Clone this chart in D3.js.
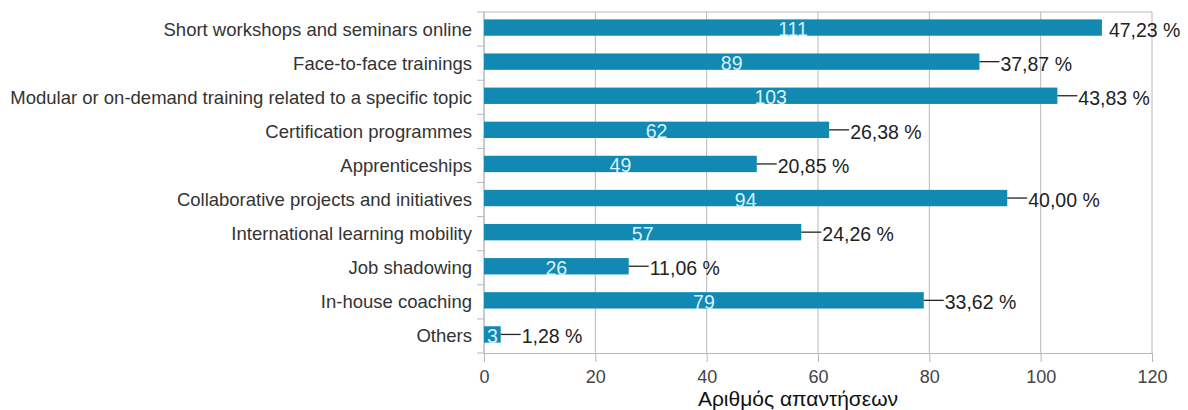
<!DOCTYPE html>
<html>
<head>
<meta charset="utf-8">
<script src="https://cdn.jsdelivr.net/npm/d3@7"></script>
<style>
  html, body { margin: 0; padding: 0; background: #fff; }
  svg { display: block; }
  text { font-family: "Liberation Sans", Arial, sans-serif; }
</style>
</head>
<body>
<svg id="chart" width="1188" height="410"></svg>
<script>
const categories = [
  "Short workshops and seminars online",
  "Face-to-face trainings",
  "Modular or on-demand training related to a specific topic",
  "Certification programmes",
  "Apprenticeships",
  "Collaborative projects and initiatives",
  "International learning mobility",
  "Job shadowing",
  "In-house coaching",
  "Others"
];
const counts = [111, 89, 103, 62, 49, 94, 57, 26, 79, 3];
const percents = ["47,23 %", "37,87 %", "43,83 %", "26,38 %", "20,85 %", "40,00 %", "24,26 %", "11,06 %", "33,62 %", "1,28 %"];
const xTicks = [0, 20, 40, 60, 80, 100, 120];
const xTitle = "Αριθμός απαντήσεων";

(function () {
const svg = d3.select("#chart");
const mL = 484, mR = 1152, mT = 12, mB = 353;

const x = d3.scaleLinear().domain([0, 120]).range([mL, mR]);
const y = d3.scaleBand().domain(categories).range([mT - 1.5, mB - 1.5]).paddingInner(0.52).paddingOuter(0.26);
const yb = d3.scaleBand().domain(categories).range([mT, mB]);

const grid = "#b8b8b8";

// vertical gridlines
svg.append("g").selectAll("line").data(xTicks).join("line")
  .attr("x1", d => x(d)).attr("x2", d => x(d))
  .attr("y1", mT).attr("y2", mB)
  .attr("stroke", grid).attr("stroke-width", 1);
// top border
svg.append("line").attr("x1", mL).attr("x2", mR).attr("y1", mT).attr("y2", mT)
  .attr("stroke", grid);

// x axis
const xAxis = d3.axisBottom(x).tickValues(xTicks).tickSize(9).tickPadding(10).tickFormat(d3.format("d"));
const gx = svg.append("g").attr("transform", `translate(0,${mB})`).call(xAxis);
gx.select(".domain").attr("stroke", grid);
gx.selectAll(".tick line").attr("stroke", grid);
gx.selectAll(".tick text").attr("fill", "#444").style("font-size", "18px").attr("dy", "0.6em");

// y axis (ticks at band boundaries)
const gy = svg.append("g").attr("transform", `translate(${mL},0)`);
gy.append("line").attr("x1", 0).attr("x2", 0).attr("y1", mT).attr("y2", mB).attr("stroke", grid);
const bounds = categories.map(c => yb(c)).concat([mB]);
gy.selectAll("line.tk").data(bounds).join("line").attr("class", "tk")
  .attr("x1", -7).attr("x2", 0).attr("y1", d => d).attr("y2", d => d).attr("stroke", grid);

// category labels
svg.append("g").selectAll("text").data(categories).join("text")
  .attr("x", mL - 12).attr("y", d => y(d) + y.bandwidth() / 2 + 1.5)
  .attr("text-anchor", "end").attr("dominant-baseline", "central")
  .attr("fill", "#333").style("font-size", "18.5px")
  .text(d => d);

// bars
const barColor = "#1189b3";
svg.append("g").selectAll("rect").data(counts).join("rect")
  .attr("x", x(0)).attr("y", (d, i) => y(categories[i]))
  .attr("width", d => x(d) - x(0)).attr("height", y.bandwidth())
  .attr("fill", barColor);

// count labels inside bars
svg.append("g").selectAll("text").data(counts).join("text")
  .attr("x", d => x(d / 2)).attr("y", (d, i) => y(categories[i]) + y.bandwidth() / 2 + 1.5)
  .attr("text-anchor", "middle").attr("dominant-baseline", "central")
  .attr("fill", "#d8f1fb").style("font-size", "19.5px")
  .text(d => d);

// percentage labels with leader lines
const lbl = svg.append("g");
counts.forEach((d, i) => {
  const cy = y(categories[i]) + y.bandwidth() / 2;
  const x0 = x(d);
  const lead = i === 0 ? 0 : 20;
  if (lead > 0) {
    lbl.append("line").attr("x1", x0).attr("x2", x0 + lead).attr("y1", cy).attr("y2", cy)
      .attr("stroke", "#222").attr("stroke-width", 1.3);
  }
  lbl.append("text").attr("x", x0 + (lead > 0 ? lead + 1 : 7)).attr("y", cy + 2)
    .attr("dominant-baseline", "central").attr("fill", "#222").style("font-size", "19.5px")
    .text(percents[i]);
});

// x axis title
svg.append("text").attr("x", (mL + mR) / 2 - 20).attr("y", 398)
  .attr("text-anchor", "middle").attr("dominant-baseline", "central")
  .attr("fill", "#111").style("font-size", "21px").text(xTitle);
})();
</script>
</body>
</html>
